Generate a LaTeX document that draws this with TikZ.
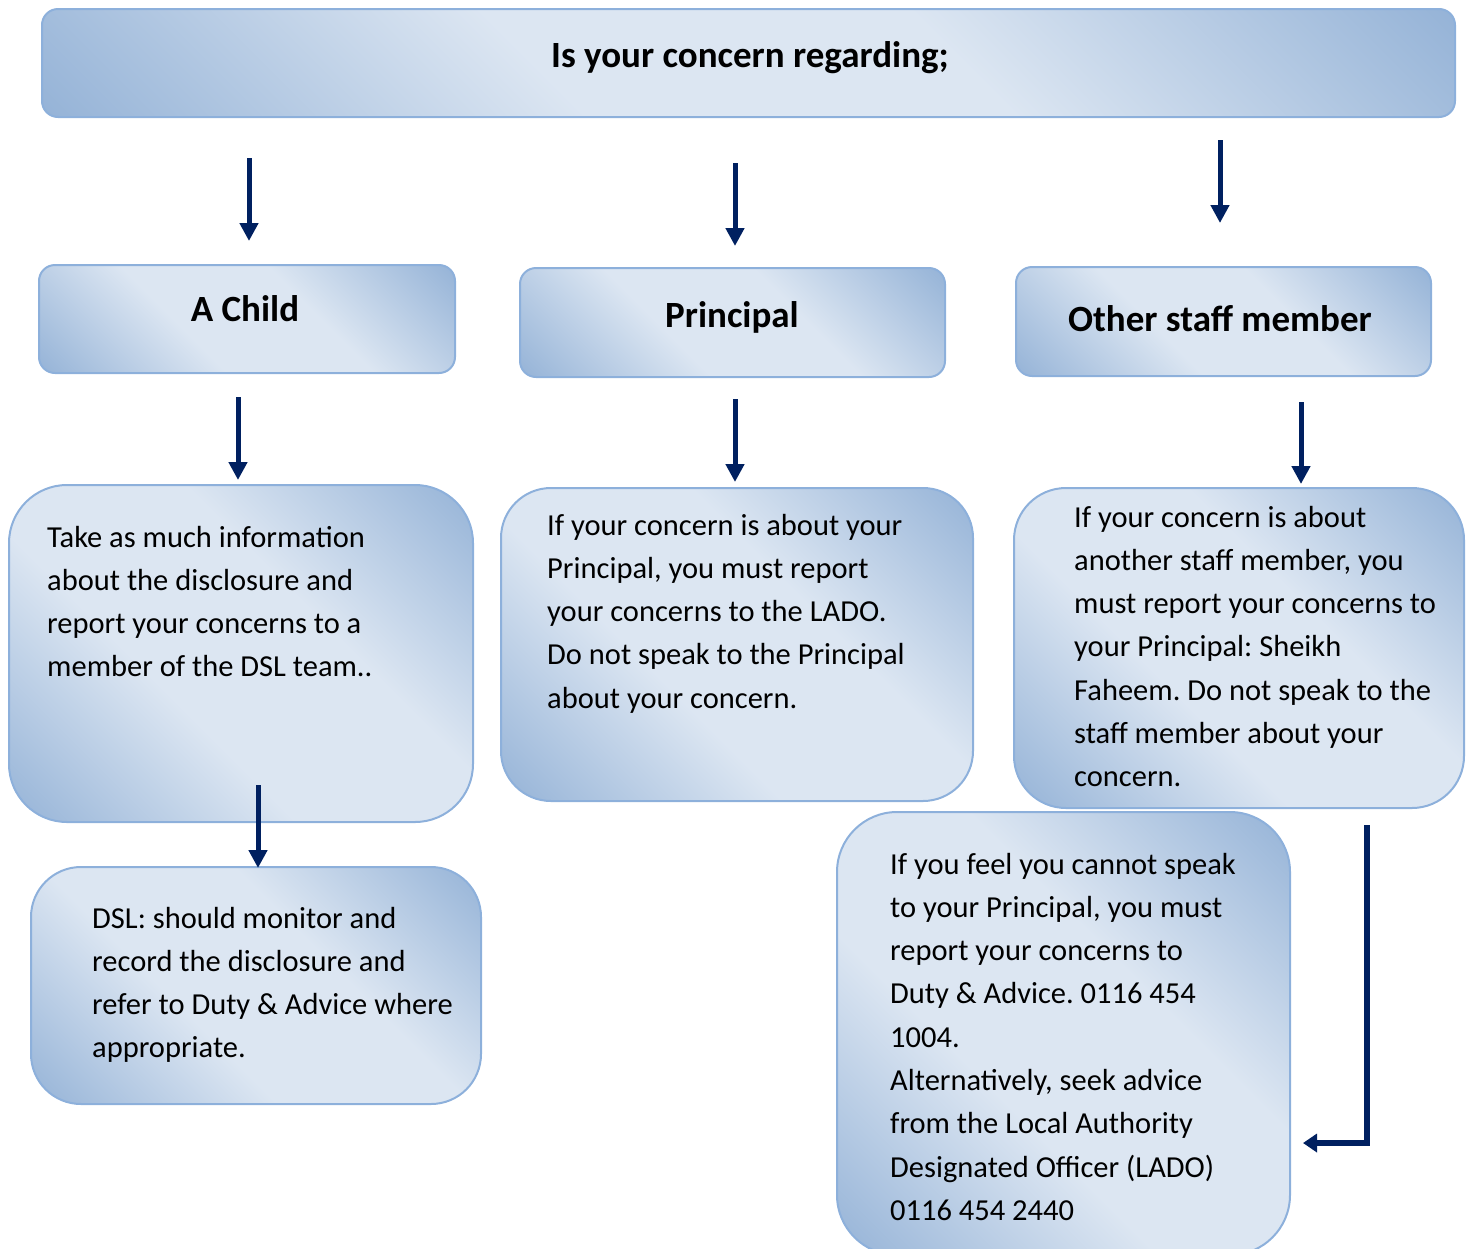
\documentclass[tikz,border=0pt]{standalone}
\usepackage{fontspec}
\setmainfont{Carlito}
\usetikzlibrary{arrows.meta}
\definecolor{lt}{RGB}{220,230,242}
\definecolor{dk}{RGB}{149,179,215}
\definecolor{edge}{RGB}{141,176,219}
\definecolor{navy}{RGB}{0,32,96}
\pgfdeclareverticalshading{boxshade}{100bp}{color(0bp)=(dk); color(14.6bp)=(dk); color(40bp)=(lt); color(60bp)=(lt); color(85.4bp)=(dk); color(100bp)=(dk)}
\newcommand\boxlines[1]{\parbox[t]{560pt}{\raggedright #1}}
\frenchspacing
\begin{document}
\begin{tikzpicture}[x=1pt,y=-1pt,
  box/.style={draw=edge, line width=2pt, shading=boxshade, shading angle=-45, anchor=north west, inner sep=0pt, outer sep=0pt},
  head/.style={font=\fontsize{37}{44}\selectfont\bfseries, anchor=base, inner sep=0pt},
  body/.style={font=\fontsize{30.5}{43.3}\selectfont\frenchspacing, anchor=base west, inner sep=0pt},
  arr/.style={draw=navy, line width=5pt, line join=miter, -{Triangle[length=18pt,width=18pt]}}]
\useasboundingbox (0,0) rectangle (1470,1248);
\clip (0,0) rectangle (1470,1248);
% boxes
\node[box, minimum width=1413pt, minimum height=108pt, rounded corners=16pt] (top) at (42,9) {};
\node[box, minimum width=416pt, minimum height=108pt, rounded corners=16pt] (child) at (39,265) {};
\node[box, minimum width=425pt, minimum height=109pt, rounded corners=16pt] (princ) at (520,268) {};
\node[box, minimum width=415pt, minimum height=109pt, rounded corners=16pt] (staff) at (1016,267) {};
\node[box, minimum width=464pt, minimum height=337pt, rounded corners=58pt] (childB) at (9,485) {};
\node[box, minimum width=472pt, minimum height=313pt, rounded corners=50pt] (princB) at (501,488) {};
\node[box, minimum width=450pt, minimum height=320pt, rounded corners=52pt] (staffB) at (1014,488) {};
\node[box, minimum width=450pt, minimum height=237pt, rounded corners=50pt] (dsl) at (31,867) {};
\node[box, minimum width=453pt, minimum height=443pt, rounded corners=60pt] (alt) at (837,812) {};
% texts
\node[head] (ttop) at (750,67) {Is your concern regarding;};
\node[head] (tchild) at (245,321) {A Child};
\node[head] (tprinc) at (732,327) {Principal};
\node[head] (tstaff) at (1220,331) {Other staff member};
\node[body] (tchildB) at (47,547) {\boxlines{Take as much information\\about the disclosure and\\report your concerns to a\\member of the DSL team..}};
\node[body] (tprincB) at (547,535) {\boxlines{If your concern is about your\\Principal, you must report\\your concerns to the LADO.\\Do not speak to the Principal\\about your concern.}};
\node[body] (tstaffB) at (1074,527) {\boxlines{If your concern is about\\another staff member, you\\must report your concerns to\\your Principal: Sheikh\\Faheem. Do not speak to the\\staff member about your\\concern.}};
\node[body] (tdsl) at (92,928) {\boxlines{DSL: should monitor and\\record the disclosure and\\refer to Duty \& Advice where\\appropriate.}};
\node[body] (talt) at (890,874) {\boxlines{If you feel you cannot speak\\to your Principal, you must\\report your concerns to\\Duty \& Advice. 0116 454\\1004.\\Alternatively, seek advice\\from the Local Authority\\Designated Officer (LADO)\\0116 454 2440}};
% arrows
\coordinate (a1s) at (249,158); \coordinate (a1e) at (249,241);
\coordinate (a2s) at (735,163); \coordinate (a2e) at (735,246);
\coordinate (a3s) at (1220,140); \coordinate (a3e) at (1220,223);
\coordinate (a4s) at (238,397); \coordinate (a4e) at (238,480);
\coordinate (a5s) at (735,399); \coordinate (a5e) at (735,482);
\coordinate (a6s) at (1301,402); \coordinate (a6e) at (1301,484);
\coordinate (a7s) at (258,785); \coordinate (a7e) at (258,868);
\coordinate (a8s) at (1367,825); \coordinate (a8e) at (1303,1143);
\draw[arr] (a1s) -- (a1e);
\draw[arr] (a2s) -- (a2e);
\draw[arr] (a3s) -- (a3e);
\draw[arr] (a4s) -- (a4e);
\draw[arr] (a5s) -- (a5e);
\draw[arr] (a6s) -- (a6e);
\draw[arr] (a7s) -- (a7e);
\draw[draw=navy, line width=6pt, line join=miter, -{Triangle[length=14pt,width=18pt]}] (a8s) |- (a8e);
\end{tikzpicture}
\end{document}
